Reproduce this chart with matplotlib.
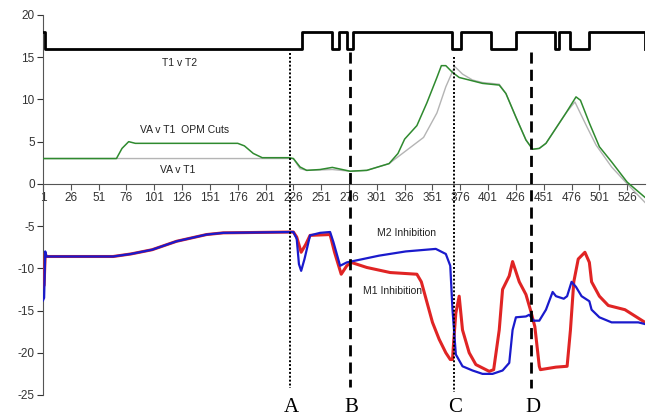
import matplotlib
matplotlib.use("Agg")
import matplotlib.pyplot as plt

# T1 v T2 step trace (switches between 16 and 18)
t12_x = [1, 3, 234, 261, 267, 274, 280, 369, 377, 404, 426, 461, 465, 475, 492, 542]
t12_y = [18, 16, 18, 16, 18, 16, 18, 16, 18, 16, 18, 16, 18, 16, 18, 16]

# VA v T1 OPM Cuts (green)
opm_x = [1, 67, 72, 78, 84, 176, 182, 190, 198, 222, 226, 232, 238, 250, 261, 277, 292, 312,
         320, 326, 337, 346, 355, 359, 363, 369, 375, 387, 396, 411, 417, 426, 435, 441, 447, 453,
         462, 471, 480, 484, 492, 501, 512, 526, 542]
opm_y = [3.0, 3.0, 4.2, 5.0, 4.8, 4.8, 4.5, 3.6, 3.1, 3.1, 3.0, 2.0, 1.6, 1.7, 1.95, 1.5, 1.6, 2.4,
         3.6, 5.3, 6.9, 9.6, 12.6, 14.0, 14.0, 13.2, 12.6, 12.2, 11.9, 11.7, 10.7, 7.9, 5.2, 4.1, 4.2,
         4.8, 6.6, 8.4, 10.3, 9.9, 7.2, 4.4, 2.6, 0.2, -1.6]

# VA v T1 (grey)
va_x = [1, 226, 232, 238, 250, 261, 277, 292, 312, 328, 343, 355, 363, 371, 378, 387, 396, 411,
        417, 426, 435, 441, 447, 453, 462, 471, 479, 490, 498, 512, 526, 542]
va_y = [3.0, 3.0, 1.8, 1.6, 1.65, 1.7, 1.5, 1.6, 2.4, 4.0, 5.5, 8.4, 11.5, 13.9, 13.0, 12.3, 12.0, 11.8,
        10.7, 7.9, 5.2, 4.1, 4.2, 4.8, 6.6, 8.4, 9.7, 6.7, 4.6, 2.0, 0.0, -2.2]

# M2 Inhibition (blue)
m2_x = [1, 2, 3, 4, 64, 80, 99, 121, 148, 163, 226, 229, 231, 233, 236, 241, 250, 259, 262, 268,
        274, 285, 303, 327, 354, 363, 367, 369, 372, 378, 387, 396, 405, 414, 420, 423, 426, 435,
        438, 442, 447, 453, 459, 462, 469, 472, 476, 480, 485, 492, 494, 501, 512, 536, 542]
m2_y = [-13.8, -13.5, -8.0, -8.6, -8.6, -8.3, -7.8, -6.8, -6.0, -5.8, -5.7, -6.5, -9.5, -10.3, -8.9,
        -6.1, -5.8, -5.7, -6.9, -9.7, -9.3, -9.0, -8.5, -8.0, -7.7, -8.3, -9.7, -14.9, -20.2, -21.6,
        -22.1, -22.5, -22.5, -22.1, -21.2, -17.3, -15.8, -15.7, -15.5, -16.2, -16.2, -14.9, -12.8,
        -13.3, -13.6, -13.3, -11.6, -12.2, -13.3, -13.9, -14.9, -15.8, -16.4, -16.4, -16.6]

# M1 Inhibition (red)
m1_x = [1, 2, 3, 4, 64, 80, 99, 121, 148, 163, 226, 229, 233, 237, 241, 259, 263, 269, 274, 278,
        292, 313, 337, 341, 346, 351, 357, 363, 367, 369, 370, 372, 375, 378, 384, 390, 402, 406,
        411, 414, 420, 423, 429, 435, 439, 443, 447, 448, 462, 472, 475, 478, 482, 488, 492, 494,
        501, 509, 524, 542]
m1_y = [-12.2, -12.0, -8.2, -8.6, -8.6, -8.3, -7.8, -6.8, -6.0, -5.8, -5.7, -6.3, -8.1, -7.2, -6.1,
        -6.0, -8.1, -10.7, -9.7, -9.3, -9.9, -10.5, -10.7, -11.6, -14.0, -16.4, -18.4, -20.0, -20.8,
        -20.8, -18.8, -15.3, -13.3, -17.3, -20.0, -21.4, -22.2, -22.0, -17.3, -12.5, -10.9, -9.2,
        -11.6, -13.1, -14.9, -16.9, -21.6, -22.0, -21.7, -21.6, -17.3, -11.6, -8.9, -8.1, -9.3,
        -11.6, -13.3, -14.4, -14.9, -16.4]

# event markers
event_names = ["A", "B", "C", "D"]
event_x = [223, 277, 370, 440]
event_top = [15.5, 15.6, 15.0, 15.6]
event_bot = [-24.2, -24.0, -24.6, -24.2]
event_style = [":", "--", ":", "--"]

x_ticks = list(range(1, 527, 25))
y_ticks = list(range(-25, 21, 5))

plt.rcParams['font.family'] = ['Liberation Sans', 'DejaVu Sans']
plt.rcParams['axes.unicode_minus'] = False

fig = plt.figure(figsize=(6.47, 4.16), dpi=100)
ax = fig.add_axes([43 / 647, 0.0505, 602 / 647, 0.9135])

ax.plot(va_x, va_y, color="#b4b4b4", lw=1.0, zorder=2)
ax.plot(opm_x, opm_y, color="#2f8a2f", lw=1.1, zorder=3)
ax.step(t12_x, t12_y, where="post", color="black", lw=2.0, zorder=3)
ax.plot(m1_x, m1_y, color="#e02424", lw=2.2, zorder=3)
ax.plot(m2_x, m2_y, color="#1a1acc", lw=1.6, zorder=4)

for name, xv, top, bot, ls in zip(event_names, event_x, event_top, event_bot, event_style):
    if ls == "--":
        ax.plot([xv, xv], [top, bot], color="black", lw=2.0, ls=(0, (4, 2.2)), zorder=5)
    else:
        ax.plot([xv, xv], [top, bot], color="black", lw=1.4, ls=(0, (1, 1)), zorder=5)
    ax.text(xv + 1, -26.5, name, family="Liberation Serif", fontsize=15,
            ha="center", va="center", clip_on=False)

lbl = dict(fontsize=7.5, ha="center", va="center", color="#222222")
ax.text(124, 14.3, "T1 v T2", **lbl)
ax.text(128, 6.35, "VA v T1  OPM Cuts", **lbl)
ax.text(122, 1.7, "VA v T1", **lbl)
ax.text(328, -5.8, "M2 Inhibition", **lbl)
ax.text(315, -12.7, "M1 Inhibition", **lbl)

ax.set_xlim(1, 542)
ax.set_ylim(-25, 20)
ax.spines["top"].set_visible(False)
ax.spines["right"].set_visible(False)
ax.spines["bottom"].set_position(("data", 0))
ax.spines["bottom"].set_color("#555555")
ax.spines["left"].set_color("#555555")
ax.set_xticks(x_ticks)
ax.set_yticks(y_ticks)
ax.tick_params(axis="both", labelsize=8.5, colors="#333333", length=4, direction="out", pad=2)
ax.tick_params(axis="x", color="#555555")

fig.savefig("out.png", dpi=100)
